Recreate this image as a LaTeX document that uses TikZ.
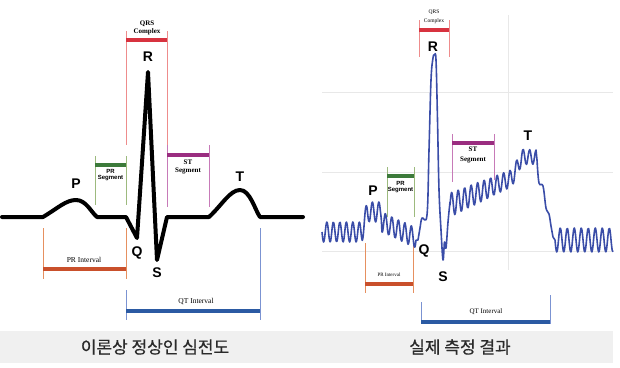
\documentclass[tikz,border=0pt]{standalone}
\usepackage{fontspec}
\setmainfont{Liberation Serif}
\newfontfamily\wavefont{Liberation Sans}
\newfontfamily\krfont[FakeBold=0.6]{Noto Sans CJK KR}

\definecolor{qrsred}{HTML}{D7323F}
\definecolor{qrsline}{HTML}{EE8C8C}
\definecolor{prgreen}{HTML}{3C7A3A}
\definecolor{prline}{HTML}{9DBA7E}
\definecolor{stpurple}{HTML}{9A2D80}
\definecolor{stline}{HTML}{C77AB8}
\definecolor{prorange}{HTML}{C9502B}
\definecolor{priline}{HTML}{E69060}
\definecolor{qtblue}{HTML}{2B5AA3}
\definecolor{qtline}{HTML}{7B93D2}
\definecolor{tracecol}{HTML}{3A4DA8}
\definecolor{gridcol}{HTML}{E8E8E8}
\definecolor{bandcol}{HTML}{F0F0F0}
\definecolor{capcol}{HTML}{2A2A2A}

\begin{document}
\begin{tikzpicture}[x=1pt,y=-1pt,
    ecgline/.style={line width=4pt,line join=round,line cap=round},
    tracestyle/.style={tracecol,line width=1.6pt,line join=round},
    barline/.style={line width=3.5pt},
    tickline/.style={line width=0.9pt},
    wave/.style={font=\wavefont\bfseries\fontsize{14}{14}\selectfont,inner sep=0pt},
    small/.style={font=\bfseries\fontsize{7}{8}\selectfont,align=center,inner sep=0pt},
    smallsans/.style={font=\wavefont\bfseries\fontsize{6}{6.5}\selectfont,align=center,inner sep=0pt},
    span/.style={font=\fontsize{7.5}{8}\selectfont,inner sep=0pt},
    caption/.style={font=\krfont\fontsize{17}{17}\selectfont,text=capcol,inner sep=0pt},
    declare function={
      baseA(\x)=(\x<362)?232:((\x<367)?(232-20*(\x-362)/5):((\x<382)?212:(222+16*(\x-382)/34)));
      baseB(\x)=(\x<512)?(205-27*(\x-450)/62):((\x<522)?(178-21*(\x-512)/10):157);
      ampB(\x)=12-5*(\x-450)/86;
    }]
\useasboundingbox (0,0) rectangle (620,367);

% caption band
\fill[bandcol] (0,331) rectangle (613,363);
\node[caption] (lcap) at (155,347) {이론상 정상인 심전도};
\node[caption] (rcap) at (460,347) {실제 측정 결과};

% ---- left: textbook ECG ----
\draw[qrsline,tickline] (126,31) -- (126,145) (167,31) -- (167,145);
\draw[qrsred,barline] (126,40) -- (167,40);
\node[small] (lqrs) at (147,28) {QRS\\Complex};

\draw[prline,tickline] (95,156) -- (95,205) (126,156) -- (126,205);
\draw[prgreen,barline] (95,165) -- (126,165);
\node[smallsans] (lprseg) at (110.5,175) {PR\\Segment};

\draw[stline,tickline] (167,145) -- (167,207) (209,145) -- (209,207);
\draw[stpurple,barline] (167,155) -- (209,155);
\node[small] (lstseg) at (188,167) {ST\\Segment};

\draw[priline,tickline] (43,228) -- (43,279) (126,228) -- (126,279);
\draw[prorange,barline] (43,269) -- (126,269);
\node[span] (lprint) at (84,260) {PR Interval};

\draw[qtline,tickline] (126,290) -- (126,320) (260,228) -- (260,320);
\draw[qtblue,barline] (126,311) -- (260,311);
\node[span] (lqtint) at (196,301) {QT Interval};

\draw[ecgline] (2,217) -- (43,217)
  .. controls (58,208) and (66,200) .. (76,200)
  .. controls (86,200) and (91,212) .. (97,217)
  -- (126,217) -- (137,238) -- (148,72) -- (157,260) -- (167,217) -- (209,217)
  .. controls (222,205) and (230,190) .. (240,190)
  .. controls (250,190) and (255,210) .. (260,217) -- (303,217);

\node[wave] (lp) at (76,184) {P};
\node[wave] (lq) at (137,253) {Q};
\node[wave] (lr) at (148,57) {R};
\node[wave] (ls) at (157,273) {S};
\node[wave] (lt) at (240,177) {T};

% ---- right: measured ECG ----
\draw[gridcol,line width=0.8pt] (322,92) -- (613,92) (322,172) -- (613,172)
  (322,251) -- (613,251) (508,15) -- (508,270);

\draw[qrsline,tickline] (419,20) -- (419,57) (449,20) -- (449,57);
\draw[qrsred,barline] (419,30) -- (449,30);
\node[small,font=\fontsize{5.5}{9}\selectfont] (rqrs) at (434,17) {QRS\\Complex};

\draw[prline,tickline] (387,167) -- (387,217) (414,167) -- (414,217);
\draw[prgreen,barline] (387,176) -- (414,176);
\node[smallsans] (rprseg) at (400.5,187) {PR\\Segment};

\draw[stline,tickline] (452,134) -- (452,182) (494,134) -- (494,180);
\draw[stpurple,barline] (452,143) -- (494,143);
\node[small,font=\bfseries\fontsize{7}{10}\selectfont] (rstseg) at (473,155) {ST\\Segment};

\draw[priline,tickline] (365,243) -- (365,293) (413,243) -- (413,293);
\draw[prorange,barline] (365,284) -- (413,284);
\node[span,font=\fontsize{5}{6}\selectfont] (rprint) at (389,275) {PR Interval};

\draw[qtline,tickline] (421,302) -- (421,324) (550,295) -- (550,324);
\draw[qtblue,barline] (421,322) -- (550,322);
\node[span,font=\fontsize{7}{8}\selectfont] (rqtint) at (486,312) {QT Interval};

\draw[tracestyle]
  plot[smooth,domain=322:416,samples=120] (\x,{baseA(\x)+10*sin(55.4*(\x-322))})
  -- plot[smooth,tension=0.6] coordinates {(418,240) (420,228) (422,218) (427,215)
     (429,150) (431,80) (433,58) (434.5,55) (436,60) (437.5,120) (439,190)
     (441,230) (443,260) (444.5,242) (446,248) (448,222) (450,202)}
  -- plot[smooth,domain=450:536,samples=110] (\x,{baseB(\x)-ampB(\x)*sin(55.4*(\x-450))})
  -- plot[smooth,tension=0.6] coordinates {(537,160) (539,183) (543,186)
     (546,208) (549,214) (551,226) (553,237)}
  -- plot[smooth,domain=555:613,samples=70] (\x,{240+12*sin(51.4*(\x-555))});

\node[wave] (rp) at (373,191) {P};
\node[wave] (rq) at (424,251) {Q};
\node[wave] (rr) at (433,47) {R};
\node[wave] (rs) at (443,277) {S};
\node[wave] (rt) at (528,136) {T};
\end{tikzpicture}
\end{document}
